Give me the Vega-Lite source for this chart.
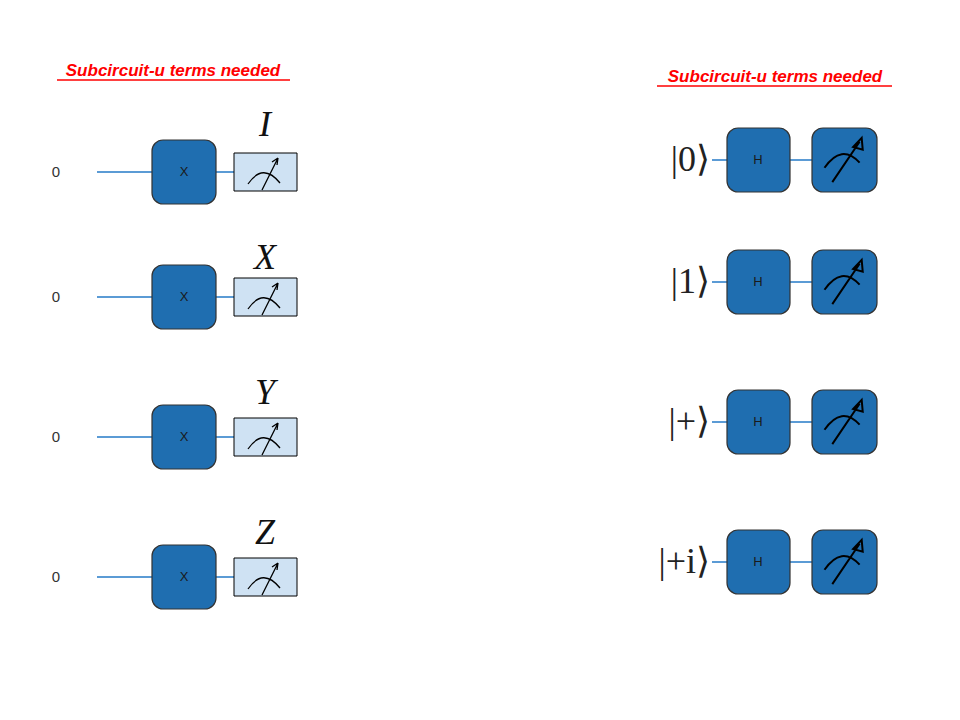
{
"$schema":"https://vega.github.io/schema/vega-lite/v6.json",
"width":960,"height":720,"autosize":{"type":"none"},"padding":0,
"background":"white","config":{"view":{"stroke":null}},
"datasets":{
"wires":[{"x":97,"x2":152,"y":172},{"x":216,"x2":234,"y":172},{"x":97,"x2":152,"y":297},{"x":216,"x2":234,"y":297},{"x":97,"x2":152,"y":437},{"x":216,"x2":234,"y":437},{"x":97,"x2":152,"y":577},{"x":216,"x2":234,"y":577},
{"x":712,"x2":727,"y":160},{"x":790,"x2":812,"y":160},{"x":712,"x2":727,"y":282},{"x":790,"x2":812,"y":282},{"x":712,"x2":727,"y":422},{"x":790,"x2":812,"y":422},{"x":712,"x2":727,"y":562},{"x":790,"x2":812,"y":562}],
"gates":[{"x":152,"x2":216,"y":140,"y2":204,"xc":184,"yc":172,"t":"X"},{"x":152,"x2":216,"y":265,"y2":329,"xc":184,"yc":297,"t":"X"},{"x":152,"x2":216,"y":405,"y2":469,"xc":184,"yc":437,"t":"X"},{"x":152,"x2":216,"y":545,"y2":609,"xc":184,"yc":577,"t":"X"},
{"x":727,"x2":790,"y":128,"y2":192,"xc":758,"yc":160,"t":"H"},{"x":727,"x2":790,"y":250,"y2":314,"xc":758,"yc":282,"t":"H"},{"x":727,"x2":790,"y":390,"y2":454,"xc":758,"yc":422,"t":"H"},{"x":727,"x2":790,"y":530,"y2":594,"xc":758,"yc":562,"t":"H"},
{"x":812,"x2":877,"y":128,"y2":192,"xc":844,"yc":160,"t":""},{"x":812,"x2":877,"y":250,"y2":314,"xc":844,"yc":282,"t":""},{"x":812,"x2":877,"y":390,"y2":454,"xc":844,"yc":422,"t":""},{"x":812,"x2":877,"y":530,"y2":594,"xc":844,"yc":562,"t":""}],
"boxes":[{"x":234,"x2":297,"y":153,"y2":191,"xc":265,"yc":172},{"x":234,"x2":297,"y":278,"y2":316,"xc":265,"yc":297},{"x":234,"x2":297,"y":418,"y2":456,"xc":265,"yc":437},{"x":234,"x2":297,"y":558,"y2":596,"xc":265,"yc":577}],
"rmeters":[{"xc":844,"yc":160},{"xc":844,"yc":282},{"xc":844,"yc":422},{"xc":844,"yc":562}],
"zeros":[{"x":56,"y":172,"t":"0"},{"x":56,"y":297,"t":"0"},{"x":56,"y":437,"t":"0"},{"x":56,"y":577,"t":"0"}],
"ops":[{"x":265,"y":125,"t":"I"},{"x":265,"y":258,"t":"X"},{"x":265,"y":393,"t":"Y"},{"x":265,"y":533,"t":"Z"}],
"kets":[{"x":710,"y":160,"t":"|0⟩"},{"x":710,"y":282,"t":"|1⟩"},{"x":710,"y":422,"t":"|+⟩"},{"x":710,"y":562,"t":"|+i⟩"}],
"titles":[{"x":173,"y":71,"t":"Subcircuit-u terms needed"},{"x":775,"y":77,"t":"Subcircuit-u terms needed"}],
"unders":[{"x":57,"x2":290,"y":80},{"x":657,"x2":892,"y":86}]
},
"encoding":{},
"layer":[
{"data":{"name":"wires"},"mark":{"type":"rule","color":"#5b9bd5","strokeWidth":2},
 "encoding":{"x":{"field":"x","type":"quantitative","scale":{"domain":[0,960],"nice":false,"zero":false},"axis":null},"x2":{"field":"x2"},"y":{"field":"y","type":"quantitative","scale":{"domain":[0,720],"nice":false,"zero":false,"reverse":true},"axis":null}}},
{"data":{"name":"gates"},"mark":{"type":"rect","fill":"#1f6eb0","stroke":"#333","strokeWidth":1.2,"cornerRadius":11},
 "encoding":{"x":{"field":"x","type":"quantitative"},"x2":{"field":"x2"},"y":{"field":"y","type":"quantitative"},"y2":{"field":"y2"}}},
{"data":{"name":"gates"},"mark":{"type":"text","fontSize":13,"font":"Liberation Sans","color":"#1a1a1a"},
 "encoding":{"x":{"field":"xc","type":"quantitative"},"y":{"field":"yc","type":"quantitative"},"text":{"field":"t"}}},
{"data":{"name":"boxes"},"mark":{"type":"rect","fill":"#cfe2f3","stroke":"#000","strokeWidth":1},
 "encoding":{"x":{"field":"x","type":"quantitative"},"x2":{"field":"x2"},"y":{"field":"y","type":"quantitative"},"y2":{"field":"y2"}}},
{"data":{"name":"boxes"},"mark":{"type":"point","filled":false,"stroke":"#000","strokeWidth":1.3,"opacity":1,"size":1600,
 "shape":"M-0.85,0.6 Q-0.1,-0.5 0.75,0.55 M-0.15,0.9 L0.65,-0.7 M0.65,-0.7 L0.35,-0.5 M0.65,-0.7 L0.6,-0.35"},
 "encoding":{"x":{"field":"xc","type":"quantitative"},"y":{"field":"yc","type":"quantitative"}}},
{"data":{"name":"rmeters"},"mark":{"type":"point","filled":false,"stroke":"#000","strokeWidth":2,"opacity":1,"size":2704,
 "shape":"M-0.75,0.3 Q-0.1,-0.65 0.6,0.1 M-0.45,0.85 L0.6,-0.7 M0.68,-0.85 L0.35,-0.5 L0.72,-0.4 Z"},
 "encoding":{"x":{"field":"xc","type":"quantitative"},"y":{"field":"yc","type":"quantitative"}}},
{"data":{"name":"zeros"},"mark":{"type":"text","fontSize":15,"font":"Liberation Sans","color":"#333"},
 "encoding":{"x":{"field":"x","type":"quantitative"},"y":{"field":"y","type":"quantitative"},"text":{"field":"t"}}},
{"data":{"name":"ops"},"mark":{"type":"text","fontSize":36,"font":"Liberation Serif","fontStyle":"italic","color":"#111"},
 "encoding":{"x":{"field":"x","type":"quantitative"},"y":{"field":"y","type":"quantitative"},"text":{"field":"t"}}},
{"data":{"name":"kets"},"mark":{"type":"text","fontSize":36,"font":"Liberation Serif","align":"right","color":"#222"},
 "encoding":{"x":{"field":"x","type":"quantitative"},"y":{"field":"y","type":"quantitative"},"text":{"field":"t"}}},
{"data":{"name":"titles"},"mark":{"type":"text","fontSize":17,"font":"Liberation Sans","fontWeight":"bold","fontStyle":"italic","color":"#ff0000"},
 "encoding":{"x":{"field":"x","type":"quantitative"},"y":{"field":"y","type":"quantitative"},"text":{"field":"t"}}},
{"data":{"name":"unders"},"mark":{"type":"rule","color":"#ff0000","strokeWidth":1.5},
 "encoding":{"x":{"field":"x","type":"quantitative"},"x2":{"field":"x2"},"y":{"field":"y","type":"quantitative"}}}
]
}
